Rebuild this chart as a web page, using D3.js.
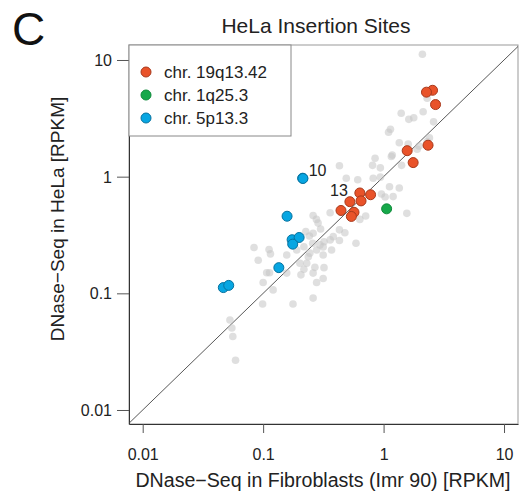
<!DOCTYPE html>
<html><head><meta charset="utf-8">
<script src="https://cdn.jsdelivr.net/npm/d3@7"></script>
<style>body{margin:0;background:#fff}svg{display:block;font-family:"Liberation Sans",Arial,sans-serif}</style>
</head><body>
<svg id="c" width="520" height="493"></svg>
<script>
// Background (all insertion sites) [fibroblast RPKM, HeLa RPKM]
const grayX = [2.1,2.3,1.4,2.13,1.62,1.78,2.6,1.14,1.1,1.35,1.6,2.4,2.3,1.9,1.97,1.18,1.16,0.85,0.81,0.94,1.41,0.43,0.49,0.61,0.82,0.94,1.12,1.35,0.96,1.03,1.2,1.56,0.71,0.635,
  0.36,0.26,0.277,0.286,0.3,0.26,0.226,0.43,0.477,0.43,0.382,0.36,0.59,0.32,0.315,0.37,0.315,0.278,0.244,0.23,0.269,0.32,0.26,0.315,0.278,0.218,0.206,0.26,0.242,0.258,0.218,0.296,
  0.084,0.112,0.115,0.091,0.157,0.19,0.107,0.113,0.1,0.121,0.099,0.177,0.157,0.202,0.237,0.053,0.055,0.056,0.059];
const grayY = [11.2,4.7,3.5,3.6,3.1,3.2,2.95,2.55,2.4,1.95,1.9,2.15,2.0,1.72,1.83,1.53,1.49,1.44,1.25,1.19,1.25,1.24,0.97,0.94,0.97,0.99,0.82,0.8,0.71,0.67,0.675,0.485,0.46,0.43,
  0.49,0.465,0.43,0.4,0.356,0.327,0.338,0.35,0.331,0.284,0.306,0.287,0.269,0.277,0.25,0.235,0.213,0.235,0.221,0.181,0.167,0.166,0.149,0.134,0.124,0.161,0.144,0.091,0.31,0.269,0.251,0.26,
  0.247,0.237,0.218,0.192,0.213,0.235,0.15,0.15,0.124,0.107,0.081,0.081,0.149,0.181,0.206,0.059,0.0505,0.0426,0.0267];
// chr. 19q13.42
const chr19X = [2.55,2.27,2.7,2.34,1.57,1.76,0.78,0.635,0.65,0.525,0.443,0.568,0.54];
const chr19Y = [5.5,5.3,4.15,1.86,1.67,1.32,0.70,0.725,0.62,0.61,0.513,0.495,0.456];
// chr. 1q25.3
const chr1X = [1.06];
const chr1Y = [0.53];
// chr. 5p13.3
const chr5X = [0.213,0.214,0.158,0.174,0.199,0.176,0.135,0.0467,0.0518];
const chr5Y = [0.97,0.965,0.458,0.288,0.301,0.264,0.166,0.112,0.117];
const xTicks = [0.01,0.1,1,10];
const yTicks = [0.01,0.1,1,10];
const legendLabels = ["chr. 19q13.42","chr. 1q25.3","chr. 5p13.3"];
const colors = [["#E9532A","#A8391C"],["#16A84A","#0E8A3A"],["#07A6E2","#06729F"]];

const svg = d3.select("#c");
const L=129,R=518,T=45,B=424;
const x = d3.scaleLog().domain([Math.pow(10,-2.1137),Math.pow(10,1.116)]).range([L,R]);
const y = d3.scaleLog().domain([Math.pow(10,-2.12),Math.pow(10,1.1285)]).range([B,T]);

svg.append("text").attr("x",12).attr("y",45).attr("font-size",46).attr("fill","#111").text("C");
svg.append("text").attr("x",316).attr("y",33).attr("text-anchor","middle").attr("font-size",21).attr("fill","#222").text("HeLa Insertion Sites");

// frame
svg.append("rect").attr("x",L).attr("y",T).attr("width",R-L).attr("height",B-T).attr("fill","none").attr("stroke","#999").attr("stroke-width",1);

// axes
const xa = svg.append("g").attr("transform",`translate(0,${B})`).call(d3.axisBottom(x).tickValues(xTicks).tickFormat(d=>String(d)).tickSize(9).tickSizeOuter(0));
const ya = svg.append("g").attr("transform",`translate(${L},0)`).call(d3.axisLeft(y).tickValues(yTicks).tickFormat(d=>String(d)).tickSize(12).tickSizeOuter(0));
[xa,ya].forEach(g=>{g.select(".domain").attr("stroke","#333");g.selectAll(".tick line").attr("stroke","#555");
  g.selectAll("text").attr("font-size",16).attr("fill","#222").attr("font-family","Liberation Sans, Arial, sans-serif");});
xa.selectAll("text").attr("dy","1.5em");
ya.selectAll("text").attr("x",-17).attr("dy","0.35em");

svg.append("text").attr("x",323).attr("y",487).attr("text-anchor","middle").attr("font-size",19.6).attr("fill","#222").text("DNase\u2212Seq in Fibroblasts (Imr 90) [RPKM]");
svg.append("text").attr("transform","translate(64,219) rotate(-90)").attr("text-anchor","middle").attr("font-size",19).attr("fill","#222").text("DNase\u2212Seq in HeLa [RPKM]");

// diagonal
const dlo = x.domain()[0], dhi = x.domain()[1];
svg.append("line").attr("x1",x(dlo)).attr("y1",y(dlo)).attr("x2",x(dhi)).attr("y2",y(dhi)).attr("stroke","#444").attr("stroke-width",0.9);

// gray points
svg.append("g").selectAll("circle").data(d3.range(grayX.length)).join("circle")
  .attr("cx",i=>x(grayX[i])).attr("cy",i=>y(grayY[i])).attr("r",3.8).attr("fill","#c4c4c4").attr("fill-opacity",0.55);

function series(xs,ys,c){
  svg.append("g").selectAll("circle").data(d3.range(xs.length)).join("circle")
    .attr("cx",i=>x(xs[i])).attr("cy",i=>y(ys[i])).attr("r",5).attr("fill",c[0]).attr("stroke",c[1]).attr("stroke-width",1);
}
series(chr5X,chr5Y,colors[2]);
series(chr1X,chr1Y,colors[1]);
series(chr19X,chr19Y,colors[0]);

svg.append("text").attr("x",x(chr5X[0])+6).attr("y",y(chr5Y[0])-2).attr("font-size",16).attr("fill","#222").text("10");
svg.append("text").attr("x",x(chr19X[9])-2).attr("y",y(chr19Y[9])-6).attr("text-anchor","end").attr("font-size",16).attr("fill","#222").text("13");

// legend
svg.append("rect").attr("x",L).attr("y",T).attr("width",162).attr("height",91).attr("fill","#fff").attr("stroke","#888").attr("stroke-width",1);
legendLabels.forEach((lab,i)=>{
  const yy = 72 + i*23;
  svg.append("circle").attr("cx",146).attr("cy",yy).attr("r",5).attr("fill",colors[i][0]).attr("stroke",colors[i][1]).attr("stroke-width",1);
  svg.append("text").attr("x",164).attr("y",yy).attr("dy","0.35em").attr("font-size",17).attr("fill","#222").text(lab);
});
</script>
</body></html>
